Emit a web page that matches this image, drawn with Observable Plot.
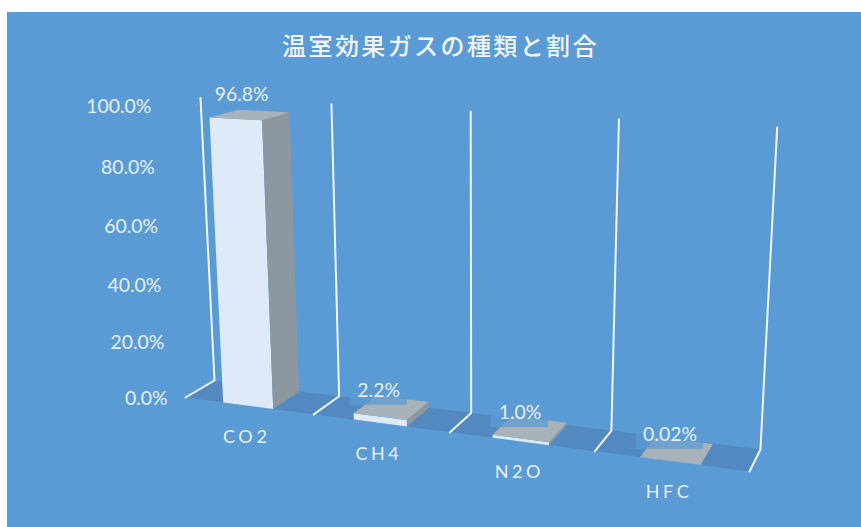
<!DOCTYPE html>
<html lang="ja">
<head>
<meta charset="utf-8">
<script src="https://cdn.jsdelivr.net/npm/d3@7"></script>
<script src="https://cdn.jsdelivr.net/npm/@observablehq/plot@0.6"></script>
<style>
html,body{margin:0;padding:0;background:#fff;width:861px;height:527px;overflow:hidden}
#panel{position:absolute;left:7px;top:12px;right:0;bottom:0;background:#5b9bd5}
#chart{position:absolute;left:0;top:0}
.chart-title text{letter-spacing:2.4px}
.cat-label text{letter-spacing:3.6px}
</style>
</head>
<body>
<div id="panel"></div>
<div id="chart"></div>
<script>
const chartTitle = "温室効果ガスの種類と割合";
const categories = ["CO2", "CH4", "N2O", "HFC"];
const values = [96.8, 2.2, 1.0, 0.02];
const valueLabels = ["96.8%", "2.2%", "1.0%", "0.02%"];
const ticks = [0, 20, 40, 60, 80, 100];

// camera: category position, depth (0 front .. 1 back) and percent → picture
const cam = {a: 476.7, b: 36.55, c: 185, d: 19.13, e: -3.59, f: 397, g: -0.1165, h: 0.0353,
             k: 0.05175, nx: 480, ny: 5750, lift: 5.5};
function project(cat, depth, pct) {
  const u = cat / categories.length, t = pct / 100 * cam.k;
  const w = cam.g * u + cam.h * depth + 1 - t;
  return [
    (cam.a * u + cam.b * depth + cam.c - t * cam.nx) / w,
    (cam.d * u + cam.e * depth + cam.f - t * cam.ny) / w - cam.lift * u * pct / 100
  ];
}
const pt = (id, cat, depth, pct) => { const [x, y] = project(cat, depth, pct); return {id, x, y}; };

// floor and wall rules
const floorFace = [pt(0, 0, 0, 0), pt(0, 4, 0, 0), pt(0, 4, 1, 0), pt(0, 0, 1, 0)];
const rules = d3.range(5).flatMap(i => [pt(i, i, 0, 0), pt(i, i, 1, 0), pt(i, i, 1, 100)]);

// bar faces
const L = 0.30, R = 0.69, B = 0.97;
const frontFaces = [], sideFaces = [], topFaces = [];
values.forEach((v, i) => {
  const a = i + L, b = i + R;
  frontFaces.push(pt(i, a, 0, 0), pt(i, b, 0, 0), pt(i, b, 0, v), pt(i, a, 0, v));
  sideFaces.push(pt(i, b, 0, 0), pt(i, b, B, 0), pt(i, b, B, v), pt(i, b, 0, v));
  topFaces.push(pt(i, a, 0, v), pt(i, b, 0, v), pt(i, b, B, v), pt(i, a, B, v));
});

// where each value label sits relative to the centre of its bar top
const labelDx = [-9.5, -14, -11, -8];
const labelDy = [-20, -17, -16, -16];
const labels = values.map((v, i) => {
  const [x, y] = project(i + 0.5, 0.5, v);
  return {text: valueLabels[i], x: x + labelDx[i], y: y + labelDy[i], halfW: valueLabels[i].length > 4 ? 33.5 : 28.5};
});
const tickRows = ticks.map(t => { const [x, y] = project(0, 0, t); return {t, x, y}; });
const catRows = categories.map((c, i) => { const [x, y] = project(i + 0.5, 0, 0); return {c, x, y}; });

const white = "#e6eff9";
const plot = Plot.plot({
  width: 861, height: 527,
  marginTop: 0, marginRight: 0, marginBottom: 0, marginLeft: 0,
  x: {domain: [0, 861], range: [0, 861], axis: null},
  y: {domain: [0, 527], range: [0, 527], axis: null},
  style: {background: "transparent", fontFamily: "Lato, 'Noto Sans CJK JP', sans-serif"},
  marks: [
    Plot.line(floorFace, {x: "x", y: "y", fill: "#5189c0", stroke: "none"}),
    Plot.line(rules, {x: "x", y: "y", z: "id", stroke: "#f0f6fc", strokeWidth: 2, strokeLinejoin: "miter"}),
    Plot.line(frontFaces, {x: "x", y: "y", z: "id", fill: "#deeaf8", stroke: "none"}),
    Plot.line(sideFaces, {x: "x", y: "y", z: "id", fill: "#8d979f", stroke: "none"}),
    Plot.line(topFaces, {x: "x", y: "y", z: "id", fill: "#a8b2ba", stroke: "none"}),
    Plot.rect(labels.slice(1), {
      x1: d => d.x - d.halfW, x2: d => d.x + d.halfW,
      y1: d => d.y - 15, y2: d => d.y + 15,
      fill: "#5b9bd5", fillOpacity: 0.72
    }),
    Plot.text(labels, {x: "x", y: "y", text: "text", fill: white, fontSize: 19.4}),
    Plot.text(tickRows, {x: "x", y: "y", text: d => d.t.toFixed(1) + "%", textAnchor: "end", dx: -18, dy: 1, fill: white, fontSize: 19.4}),
    Plot.text(catRows, {x: "x", y: "y", text: "c", dx: -2, dy: 31, fill: white, fontSize: 18, className: "cat-label"}),
    Plot.text([chartTitle], {x: () => 440, y: () => 47, text: d => d, fill: "#f0f5fb", fontSize: 24, fontWeight: 500,
      fontFamily: "'Noto Sans CJK JP', sans-serif", className: "chart-title"})
  ]
});
document.getElementById("chart").appendChild(plot);
</script>
</body>
</html>
